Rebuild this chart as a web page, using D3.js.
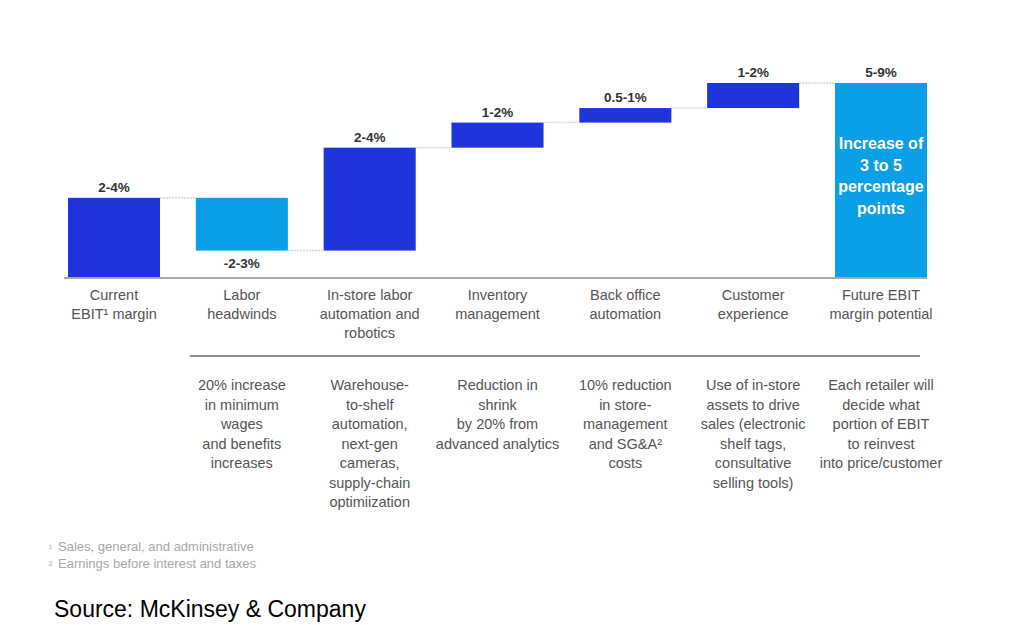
<!DOCTYPE html>
<html>
<head>
<meta charset="utf-8">
<script src="https://cdn.jsdelivr.net/npm/d3@7"></script>
<style>
  html, body { margin: 0; padding: 0; background: #ffffff; }
  svg { display: block; font-family: "Liberation Sans", Arial, sans-serif; }
</style>
</head>
<body>
<svg id="chart" width="1013" height="625"></svg>
<script>
// ---- data ----
const categories = ["Current", "Labor", "In-store", "Inventory", "Back office", "Customer", "Future"];
const categoryLabels = [
  ["Current", "EBIT¹ margin"],
  ["Labor", "headwinds"],
  ["In-store labor", "automation and", "robotics"],
  ["Inventory", "management"],
  ["Back office", "automation"],
  ["Customer", "experience"],
  ["Future EBIT", "margin potential"]
];
// step heights (percentage points, visual midpoints)
const stepValues = [3, -2, 3.9, 0.95, 0.55, 0.95];
const valueLabels = ["2-4%", "-2-3%", "2-4%", "1-2%", "0.5-1%", "1-2%", "5-9%"];
const totalBarText = ["Increase of", "3 to 5", "percentage", "points"];
const descriptions = [
  [],
  ["20% increase", "in minimum", "wages", "and benefits", "increases"],
  ["Warehouse-", "to-shelf", "automation,", "next-gen", "cameras,", "supply-chain", "optimiization"],
  ["Reduction in", "shrink", "by 20% from", "advanced analytics"],
  ["10% reduction", "in store-", "management", "and SG&A²", "costs"],
  ["Use of in-store", "assets to drive", "sales (electronic", "shelf tags,", "consultative", "selling tools)"],
  ["Each retailer will", "decide what", "portion of EBIT", "to reinvest", "into price/customer"]
];
const footnotes = [["¹", "Sales, general, and administrative"], ["²", "Earnings before interest and taxes"]];
const sourceText = "Source: McKinsey & Company";

// ---- build waterfall ----
let running = 0;
const bars = [];
stepValues.forEach((v, i) => {
  if (i === 0) {
    bars.push({ cat: categories[i], y0: 0, y1: v, kind: "total" });
    running = v;
  } else {
    const start = running;
    running += v;
    bars.push({ cat: categories[i], y0: Math.min(start, running), y1: Math.max(start, running), kind: v < 0 ? "neg" : "pos", start, end: running });
  }
});
const total = running;
bars.push({ cat: categories[6], y0: 0, y1: total, kind: "final" });

const svg = d3.select("#chart");
const DARK = "#1f34da";
const LIGHT = "#0a9fe6";

const x = d3.scaleBand().domain(categories).range([68, 927]).paddingInner(0.28).paddingOuter(0);
const y = d3.scaleLinear().domain([0, total]).range([277, 83]);

// connectors
const levels = [];
bars.forEach((b, i) => {
  if (i < bars.length - 1) {
    let lvl;
    if (i === 0) lvl = b.y1;
    else lvl = b.end;
    levels.push({ i, lvl });
  }
});
svg.append("g").selectAll("line").data(levels).join("line")
  .attr("x1", d => x(categories[d.i]) + x.bandwidth())
  .attr("x2", d => x(categories[d.i + 1]))
  .attr("y1", d => y(d.lvl)).attr("y2", d => y(d.lvl))
  .attr("stroke", "#d6d6d6").attr("stroke-width", 1.5).attr("stroke-dasharray", "2,1");

// bars
svg.append("g").selectAll("rect").data(bars).join("rect")
  .attr("x", d => x(d.cat))
  .attr("width", x.bandwidth())
  .attr("y", d => y(d.y1))
  .attr("height", d => y(d.y0) - y(d.y1))
  .attr("fill", d => (d.kind === "neg" || d.kind === "final") ? LIGHT : DARK);

// baseline
svg.append("line").attr("x1", 64).attr("x2", 927).attr("y1", y(0) + 1).attr("y2", y(0) + 1)
  .attr("stroke", "#a8a8a8").attr("stroke-width", 2);

// value labels
svg.append("g").selectAll("text").data(bars).join("text")
  .attr("x", d => x(d.cat) + x.bandwidth() / 2)
  .attr("y", d => d.kind === "neg" ? y(d.y0) + 17 : y(d.y1) - 6)
  .attr("text-anchor", "middle")
  .attr("font-size", 13.5).attr("font-weight", "bold").attr("fill", "#333")
  .text((d, i) => valueLabels[i]);

// text inside final bar
const fb = bars[bars.length - 1];
svg.append("text")
  .attr("text-anchor", "middle").attr("font-size", 16).attr("font-weight", "bold").attr("fill", "#ffffff")
  .selectAll("tspan").data(totalBarText).join("tspan")
  .attr("x", x(fb.cat) + x.bandwidth() / 2)
  .attr("y", (d, i) => 149 + i * 21.7)
  .text(d => d);

// category labels
const catG = svg.append("g");
categoryLabels.forEach((lines, i) => {
  catG.append("text").attr("text-anchor", "middle").attr("font-size", 14.5).attr("fill", "#555")
    .selectAll("tspan").data(lines).join("tspan")
    .attr("x", x(categories[i]) + x.bandwidth() / 2)
    .attr("y", (d, j) => 300 + j * 19)
    .text(d => d);
});

// separator
svg.append("line").attr("x1", 190).attr("x2", 920).attr("y1", 356).attr("y2", 356)
  .attr("stroke", "#666").attr("stroke-width", 1.5);

// descriptions
const descG = svg.append("g");
descriptions.forEach((lines, i) => {
  descG.append("text").attr("text-anchor", "middle").attr("font-size", 14.5).attr("fill", "#555")
    .selectAll("tspan").data(lines).join("tspan")
    .attr("x", x(categories[i]) + x.bandwidth() / 2)
    .attr("y", (d, j) => 390 + j * 19.5)
    .text(d => d);
});

// footnotes
footnotes.forEach((f, i) => {
  const t = svg.append("text").attr("font-size", 13).attr("fill", "#a8a8a8");
  t.append("tspan").attr("x", 49).attr("y", 551 + i * 17).attr("font-size", 10).text(f[0]);
  t.append("tspan").attr("x", 58).attr("y", 551 + i * 17).text(f[1]);
});

// source
svg.append("text").attr("x", 54).attr("y", 617).attr("font-size", 23).attr("fill", "#000")
  .attr("font-family", "'Liberation Sans', Arial, sans-serif")
  .text(sourceText);
</script>
</body>
</html>
